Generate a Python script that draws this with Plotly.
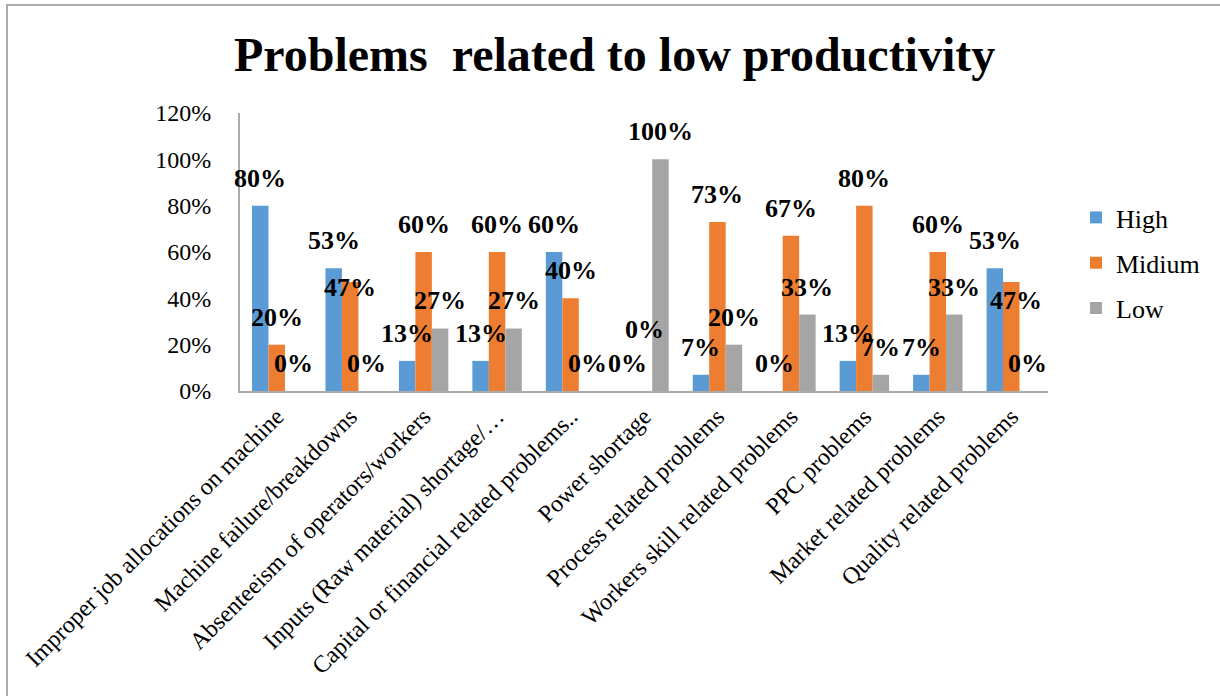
import plotly.graph_objects as go

categories = [
    "Improper job allocations on machine",
    "Machine failure/breakdowns",
    "Absenteeism of operators/workers",
    "Inputs (Raw material) shortage/…",
    "Capital or financial related problems..",
    "Power shortage",
    "Process related problems",
    "Workers skill related problems",
    "PPC problems",
    "Market related problems",
    "Quality related problems",
]
high = [80, 53, 13, 13, 60, 0, 7, 0, 13, 7, 53]
midium = [20, 47, 60, 60, 40, 0, 73, 67, 80, 60, 47]
low = [0, 0, 27, 27, 0, 100, 20, 33, 7, 33, 0]
series_names = ["High", "Midium", "Low"]
series_colors = ["#5B9BD5", "#ED7D31", "#A5A5A5"]
y_ticks = [0, 20, 40, 60, 80, 100, 120]

# hand-placed data labels: (series, category) -> (dx, dy) in pixels
label_nudges = {
    (1, 1): (0, -33),
    (1, 5): (0, 34),
    (1, 10): (5, -46),
}

W, H = 1220, 696
L, R, T, B = 240, 172, 113, 305
plot_w = W - L - R
plot_h = H - T - B

FONT = "Liberation Serif, Times New Roman, serif"
BARGAP = 0.327
x_idx = list(range(len(categories)))

fig = go.Figure()
all_series = [high, midium, low]
for name, vals, col in zip(series_names, all_series, series_colors):
    fig.add_trace(go.Bar(
        x=x_idx, y=vals, name=name, legendgroup=name,
        marker=dict(color=col, line=dict(width=0)),
    ))

# value labels above each bar
bar_w = (1 - BARGAP) / 3
for k, vals in enumerate(all_series):
    for i, v in enumerate(vals):
        dx, dy = label_nudges.get((k, i), (0, 0))
        fig.add_annotation(
            x=i + (k - 1) * bar_w, y=v, xref="x", yref="y",
            text=f"{v}%", showarrow=False, yanchor="bottom",
            xshift=dx, yshift=11 + dy,
            font=dict(family=FONT, size=26, color="black", weight="bold"),
        )

fig.add_annotation(
    x=(614 - L) / plot_w, xref="paper", y=(H - 55 - B) / plot_h, yref="paper",
    text="Problems&nbsp; related to low productivity", showarrow=False,
    xanchor="center", yanchor="middle",
    font=dict(family=FONT, size=48, color="black", weight="bold"),
)

# outer chart frame (top and left edges fall inside the page)
fig.add_shape(
    type="rect", xref="paper", yref="paper",
    x0=(7 - L) / plot_w, x1=(W + 10 - L) / plot_w,
    y0=(H - 700 - B) / plot_h, y1=(H - 5 - B) / plot_h,
    line=dict(color="#ABABAB", width=2), fillcolor="rgba(0,0,0,0)", layer="below",
)

fig.update_layout(
    width=W, height=H,
    margin=dict(l=L, r=R, t=T, b=B, autoexpand=False),
    paper_bgcolor="white", plot_bgcolor="white",
    barmode="group", bargap=BARGAP, bargroupgap=0,
    showlegend=True,
    legend=dict(
        x=(1076 - L) / plot_w, xanchor="left",
        y=(H - 194 - B) / plot_h, yanchor="top",
        font=dict(family=FONT, size=26, color="black"),
        itemwidth=30, tracegroupgap=8.5, bgcolor="rgba(0,0,0,0)",
    ),
    xaxis=dict(
        tickmode="array", tickvals=x_idx, ticktext=categories,
        tickangle=-45, range=[-0.5, len(categories) - 0.5],
        showline=True, linecolor="#ABABAB", linewidth=2,
        ticks="", showgrid=False, zeroline=False,
        tickfont=dict(family=FONT, size=24, color="black"),
    ),
    yaxis=dict(
        range=[0, 120], tickvals=y_ticks, ticktext=[f"{t}%" for t in y_ticks],
        showline=True, linecolor="#ABABAB", linewidth=2,
        ticks="", showgrid=False, zeroline=False,
        tickfont=dict(family=FONT, size=24, color="black"),
        ticklabelstandoff=22,
    ),
)

fig.write_html("out.html")
